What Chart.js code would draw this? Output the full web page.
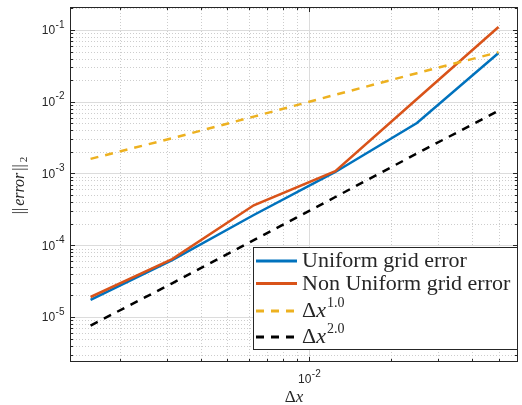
<!DOCTYPE html>
<html lang="en">
<head>
<meta charset="UTF-8" />
<title>Erro x Delta x</title>
<script src="https://cdn.jsdelivr.net/npm/chart.js"></script>
<style>
  html, body { margin: 0; padding: 0; background: #fff; }
  .grafico { width: 522px; height: 405px; }
</style>
</head>
<body>
<div class="grafico"><canvas id="erroChart" width="522" height="405"></canvas></div>
<script>
// valores
const dx = [0.0015625, 0.003125, 0.00625, 0.0125, 0.025, 0.05];
const errUniform = [1.73e-5, 6.2e-5, 2.64e-4, 1.05e-3, 5.06e-3, 0.0478];
const errNonUniform = [1.9e-5, 6.4e-5, 3.6e-4, 1.08e-3, 0.0109, 0.110];
const refOrder1 = [1.6e-3, 3.1e-3, 6.2e-3, 0.0125, 0.025, 0.049];
const refOrder2 = [7.6e-6, 2.95e-5, 1.18e-4, 4.7e-4, 1.9e-3, 7.5e-3];

// ticks
const xMajorTicks = [0.01];
const xTickExps = ['-2'];
const xMinorTicks = [0.002, 0.003, 0.004, 0.005, 0.006, 0.007, 0.008, 0.009,
                     0.02, 0.03, 0.04, 0.05];
const yMajorTicks = [1e-5, 1e-4, 1e-3, 1e-2, 1e-1];
const yTickExps = ['-5', '-4', '-3', '-2', '-1'];
const yMinorTicks = [3e-6, 4e-6, 5e-6, 6e-6, 7e-6, 8e-6, 9e-6,
                     2e-5, 3e-5, 4e-5, 5e-5, 6e-5, 7e-5, 8e-5, 9e-5,
                     2e-4, 3e-4, 4e-4, 5e-4, 6e-4, 7e-4, 8e-4, 9e-4,
                     2e-3, 3e-3, 4e-3, 5e-3, 6e-3, 7e-3, 8e-3, 9e-3,
                     2e-2, 3e-2, 4e-2, 5e-2, 6e-2, 7e-2, 8e-2, 9e-2,
                     0.2];

function pares(xs, ys) {
  return xs.map((v, i) => ({ x: v, y: ys[i] }));
}

const corTexto = '#262626';

// "10" com expoente
function potencia(ctx, exp, x, y, align) {
  ctx.font = "12px 'Liberation Sans'";
  const wb = ctx.measureText('10').width;
  ctx.font = "10px 'Liberation Sans'";
  const ws = ctx.measureText(exp).width;
  let x0 = align === 'right' ? x - wb - ws : x - (wb + ws) / 2;
  ctx.textBaseline = 'middle';
  ctx.textAlign = 'left';
  ctx.font = "12px 'Liberation Sans'";
  ctx.fillText('10', x0, y);
  ctx.font = "10px 'Liberation Sans'";
  ctx.fillText(exp, x0 + wb + 0.5, y - 6);
}

// texto estilo latex: Δ reto, x italico, expoente menor
function textoRico(ctx, label, x, y, size) {
  const partes = [];
  let base = label, sup = null;
  if (label.indexOf('^') >= 0) {
    base = label.split('^')[0];
    sup = label.split('^')[1];
  }
  if (base === 'Δx') {
    partes.push(['Δ', size + "px 'Liberation Serif'", 0]);
    partes.push(['x', 'italic ' + size + "px 'Liberation Serif'", 0]);
  } else {
    partes.push([base, size + "px 'Liberation Serif'", 0]);
  }
  if (sup) partes.push([sup, Math.round(size * 0.64) + "px 'Liberation Serif'", -size * 0.45]);
  let xx = x;
  partes.forEach(p => {
    ctx.font = p[1];
    ctx.fillText(p[0], xx, y + p[2]);
    xx += ctx.measureText(p[0]).width + (p[0] === 'x' && sup ? 1 : 0);
  });
  return xx - x;
}

function linha(ctx, x1, y1, x2, y2) {
  ctx.beginPath();
  ctx.moveTo(x1, y1);
  ctx.lineTo(x2, y2);
  ctx.stroke();
}

const eixosPlugin = {
  id: 'eixos',
  beforeDatasetsDraw(chart) {
    const { ctx, chartArea: a, scales: { x, y } } = chart;
    ctx.save();
    ctx.lineWidth = 1;
    // grade menor pontilhada
    ctx.strokeStyle = '#cdcdcd';
    ctx.setLineDash([1, 2]);
    xMinorTicks.forEach(v => {
      const px = Math.round(x.getPixelForValue(v)) + 0.5;
      linha(ctx, px, a.top, px, a.bottom);
    });
    yMinorTicks.forEach(v => {
      const py = Math.round(y.getPixelForValue(v)) + 0.5;
      linha(ctx, a.left, py, a.right, py);
    });
    // grade maior
    ctx.setLineDash([]);
    ctx.strokeStyle = '#dcdcdc';
    xMajorTicks.forEach(v => {
      const px = Math.round(x.getPixelForValue(v)) + 0.5;
      linha(ctx, px, a.top, px, a.bottom);
    });
    yMajorTicks.forEach(v => {
      const py = Math.round(y.getPixelForValue(v)) + 0.5;
      linha(ctx, a.left, py, a.right, py);
    });
    ctx.restore();
  },
  afterDraw(chart) {
    const { ctx, chartArea: a, scales: { x, y } } = chart;
    ctx.save();
    ctx.strokeStyle = corTexto;
    ctx.fillStyle = corTexto;
    ctx.lineWidth = 1;
    ctx.setLineDash([]);
    // caixa
    ctx.strokeRect(a.left + 0.5, a.top + 0.5, a.right - a.left - 1, a.bottom - a.top - 1);
    // marcas para dentro
    const marcasX = (lista, len) => lista.forEach(v => {
      const px = Math.round(x.getPixelForValue(v)) + 0.5;
      linha(ctx, px, a.bottom, px, a.bottom - len);
      linha(ctx, px, a.top, px, a.top + len);
    });
    const marcasY = (lista, len) => lista.forEach(v => {
      const py = Math.round(y.getPixelForValue(v)) + 0.5;
      linha(ctx, a.left, py, a.left + len, py);
      linha(ctx, a.right, py, a.right - len, py);
    });
    marcasX(xMinorTicks, 3);
    marcasX(xMajorTicks, 5);
    marcasY(yMinorTicks, 3);
    marcasY(yMajorTicks, 5);

    // rotulos
    xMajorTicks.forEach((v, i) => potencia(ctx, xTickExps[i], x.getPixelForValue(v), 380, 'center'));
    yMajorTicks.forEach((v, i) => potencia(ctx, yTickExps[i], a.left - 6, y.getPixelForValue(v) + 1, 'right'));

    // titulo eixo x
    ctx.textBaseline = 'alphabetic';
    ctx.font = "17px 'Liberation Serif'";
    const wD = ctx.measureText('Δ').width;
    ctx.font = "italic 17px 'Liberation Serif'";
    const wX = ctx.measureText('x').width;
    textoRico(ctx, 'Δx', (a.left + a.right) / 2 - (wD + wX) / 2, 402, 17);

    // titulo eixo y
    ctx.save();
    ctx.translate(20, (a.top + a.bottom) / 2);
    ctx.rotate(-Math.PI / 2);
    const partes = [['||', "16px 'Liberation Serif'", 0], ['error', "italic 16px 'Liberation Serif'", 0],
                    ['||', "16px 'Liberation Serif'", 0], ['2', "11px 'Liberation Serif'", 4]];
    let wt = 0;
    partes.forEach(p => { ctx.font = p[1]; p.w = ctx.measureText(p[0]).width + 2; wt += p.w; });
    let xx = -wt / 2;
    ctx.textBaseline = 'middle';
    partes.forEach(p => { ctx.font = p[1]; ctx.fillText(p[0], xx, p[2]); xx += p.w; });
    ctx.restore();

    // legenda
    const lx = 253, ly = 247, lw = a.right - lx, lh = 103;
    ctx.fillStyle = '#fff';
    ctx.fillRect(lx, ly, lw, lh);
    ctx.strokeStyle = corTexto;
    ctx.strokeRect(lx + 0.5, ly + 0.5, lw - 1, lh - 1);
    const linhasY = [261, 283.5, 311, 337];
    chart.data.datasets.forEach((ds, i) => {
      const ry = linhasY[i];
      ctx.strokeStyle = ds.borderColor;
      ctx.lineWidth = 3;
      ctx.setLineDash(ds.borderDash || []);
      linha(ctx, 256, ry, 297, ry);
      ctx.setLineDash([]);
      ctx.fillStyle = corTexto;
      ctx.textBaseline = 'alphabetic';
      textoRico(ctx, ds.label, 302, ry + 6, 22);
    });
    ctx.restore();
  }
};

const ctx = document.getElementById('erroChart').getContext('2d');
const erroChart = new Chart(ctx, {
  type: 'line',
  data: {
    datasets: [
      {
        label: 'Uniform grid error',
        data: pares(dx, errUniform),
        borderColor: '#0072BD',
        borderWidth: 2.5,
        order: 4
      },
      {
        label: 'Non Uniform grid error',
        data: pares(dx, errNonUniform),
        borderColor: '#D95319',
        borderWidth: 2.5,
        order: 3
      },
      {
        label: 'Δx^1.0',
        data: pares(dx, refOrder1),
        borderColor: '#EDB120',
        borderWidth: 2.5,
        borderDash: [8, 7],
        order: 2
      },
      {
        label: 'Δx^2.0',
        data: pares(dx, refOrder2),
        borderColor: '#000000',
        borderWidth: 2.5,
        borderDash: [8, 7],
        order: 1
      }
    ]
  },
  options: {
    responsive: false,
    animation: false,
    layout: { padding: { left: 70, right: 4, top: 7, bottom: 43 } },
    elements: { point: { radius: 0 }, line: { tension: 0 } },
    plugins: { legend: { display: false }, tooltip: { enabled: false } },
    scales: {
      x: { type: 'logarithmic', display: false, bounds: 'data', min: 0.001312, max: 0.0590 },
      y: { type: 'logarithmic', display: false, bounds: 'data', min: 2.36e-6, max: 0.209 }
    }
  },
  plugins: [eixosPlugin]
});
</script>
</body>
</html>
